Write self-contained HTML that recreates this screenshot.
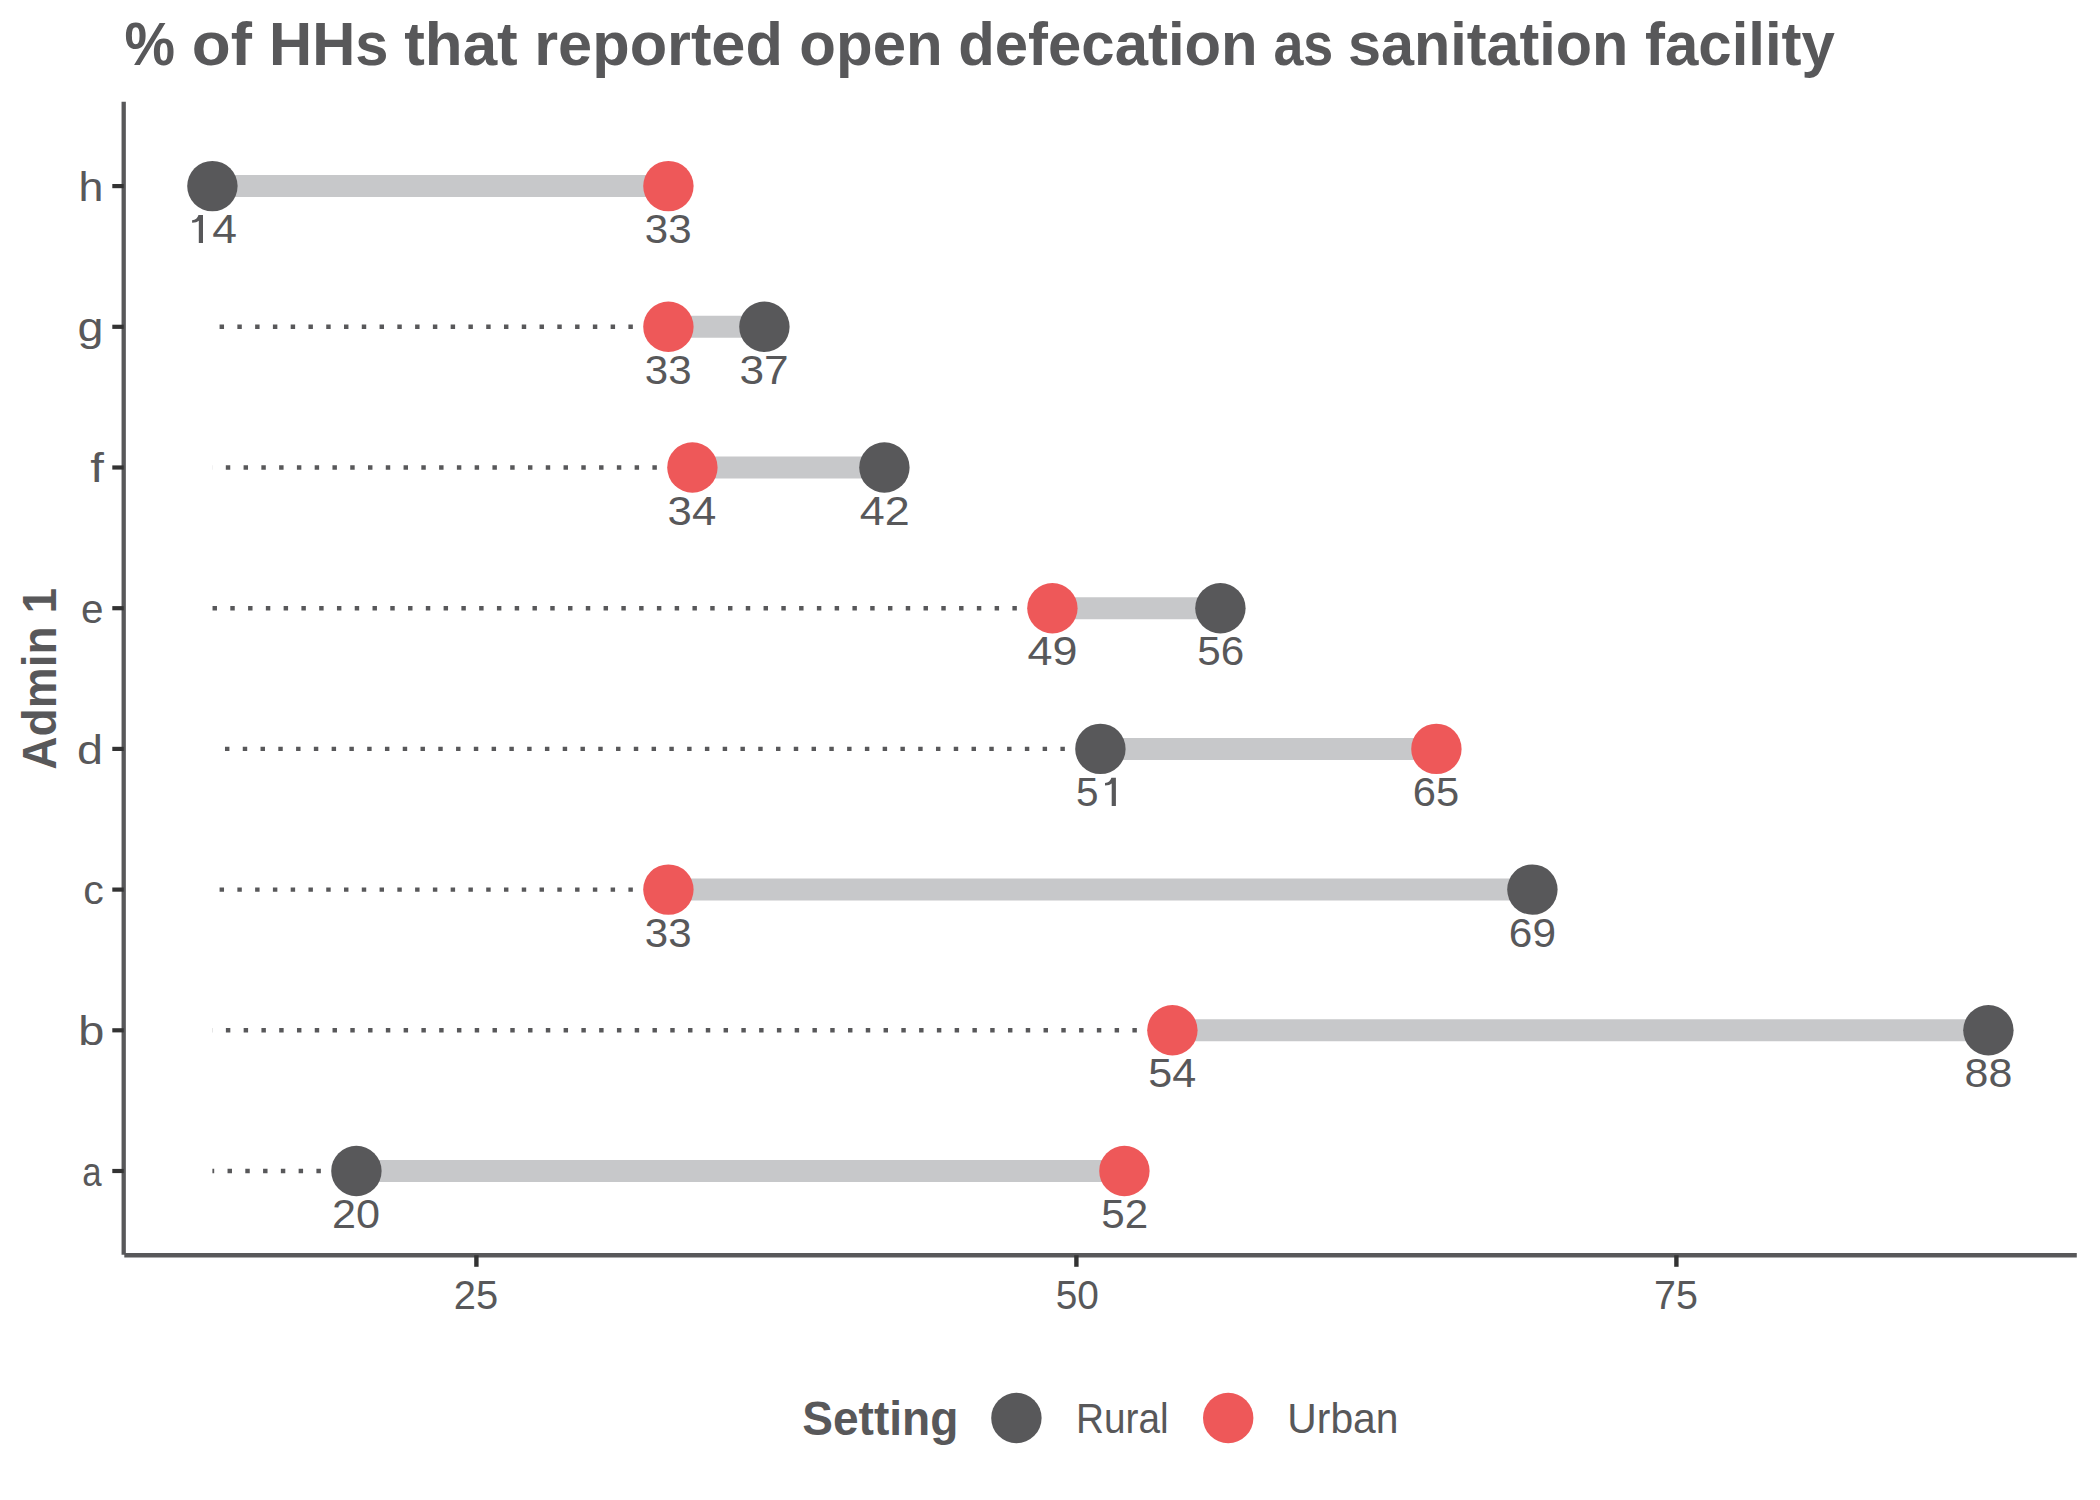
<!DOCTYPE html>
<html><head><meta charset="utf-8"><style>
html,body{margin:0;padding:0;background:#fff;width:2100px;height:1500px;overflow:hidden}
svg{display:block;font-family:"Liberation Sans",sans-serif}
</style></head><body>
<svg width="2100" height="1500" viewBox="0 0 2100 1500">
<rect width="2100" height="1500" fill="#fff"/>
<text x="124.59" y="64.70" font-size="61.3" font-weight="700" fill="#58585A" textLength="50.51" lengthAdjust="spacingAndGlyphs">%</text>
<text x="191.81" y="64.70" font-size="61.3" font-weight="700" fill="#58585A" textLength="60.17" lengthAdjust="spacingAndGlyphs">of</text>
<text x="269.11" y="64.70" font-size="61.3" font-weight="700" fill="#58585A" textLength="119.34" lengthAdjust="spacingAndGlyphs">HHs</text>
<text x="404.24" y="64.70" font-size="61.3" font-weight="700" fill="#58585A" textLength="113.41" lengthAdjust="spacingAndGlyphs">that</text>
<text x="534.26" y="64.70" font-size="61.3" font-weight="700" fill="#58585A" textLength="248.68" lengthAdjust="spacingAndGlyphs">reported</text>
<text x="799.36" y="64.70" font-size="61.3" font-weight="700" fill="#58585A" textLength="143.26" lengthAdjust="spacingAndGlyphs">open</text>
<text x="958.24" y="64.70" font-size="61.3" font-weight="700" fill="#58585A" textLength="299.47" lengthAdjust="spacingAndGlyphs">defecation</text>
<text x="1273.42" y="64.70" font-size="61.3" font-weight="700" fill="#58585A" textLength="59.89" lengthAdjust="spacingAndGlyphs">as</text>
<text x="1347.91" y="64.70" font-size="61.3" font-weight="700" fill="#58585A" textLength="280.37" lengthAdjust="spacingAndGlyphs">sanitation</text>
<text x="1644.98" y="64.70" font-size="61.3" font-weight="700" fill="#58585A" textLength="189.95" lengthAdjust="spacingAndGlyphs">facility</text>
<line x1="356.40" y1="1171.00" x2="212.40" y2="1171.00" stroke="#58585A" stroke-width="4.44" stroke-dasharray="4.444 13.331"/>
<line x1="1172.40" y1="1030.30" x2="212.40" y2="1030.30" stroke="#58585A" stroke-width="4.44" stroke-dasharray="4.444 13.331"/>
<line x1="668.40" y1="889.60" x2="212.40" y2="889.60" stroke="#58585A" stroke-width="4.44" stroke-dasharray="4.444 13.331"/>
<line x1="1100.40" y1="748.90" x2="212.40" y2="748.90" stroke="#58585A" stroke-width="4.44" stroke-dasharray="4.444 13.331"/>
<line x1="1052.40" y1="608.20" x2="212.40" y2="608.20" stroke="#58585A" stroke-width="4.44" stroke-dasharray="4.444 13.331"/>
<line x1="692.40" y1="467.50" x2="212.40" y2="467.50" stroke="#58585A" stroke-width="4.44" stroke-dasharray="4.444 13.331"/>
<line x1="668.40" y1="326.80" x2="212.40" y2="326.80" stroke="#58585A" stroke-width="4.44" stroke-dasharray="4.444 13.331"/>
<line x1="356.40" y1="1171.00" x2="1124.40" y2="1171.00" stroke="#C7C8CA" stroke-width="22"/>
<line x1="1172.40" y1="1030.30" x2="1988.40" y2="1030.30" stroke="#C7C8CA" stroke-width="22"/>
<line x1="668.40" y1="889.60" x2="1532.40" y2="889.60" stroke="#C7C8CA" stroke-width="22"/>
<line x1="1100.40" y1="748.90" x2="1436.40" y2="748.90" stroke="#C7C8CA" stroke-width="22"/>
<line x1="1052.40" y1="608.20" x2="1220.40" y2="608.20" stroke="#C7C8CA" stroke-width="22"/>
<line x1="692.40" y1="467.50" x2="884.40" y2="467.50" stroke="#C7C8CA" stroke-width="22"/>
<line x1="668.40" y1="326.80" x2="764.40" y2="326.80" stroke="#C7C8CA" stroke-width="22"/>
<line x1="212.40" y1="186.10" x2="668.40" y2="186.10" stroke="#C7C8CA" stroke-width="22"/>
<circle cx="356.40" cy="1171.00" r="25.2" fill="#58585A"/>
<circle cx="1124.40" cy="1171.00" r="25.2" fill="#EE5859"/>
<circle cx="1988.40" cy="1030.30" r="25.2" fill="#58585A"/>
<circle cx="1172.40" cy="1030.30" r="25.2" fill="#EE5859"/>
<circle cx="1532.40" cy="889.60" r="25.2" fill="#58585A"/>
<circle cx="668.40" cy="889.60" r="25.2" fill="#EE5859"/>
<circle cx="1100.40" cy="748.90" r="25.2" fill="#58585A"/>
<circle cx="1436.40" cy="748.90" r="25.2" fill="#EE5859"/>
<circle cx="1220.40" cy="608.20" r="25.2" fill="#58585A"/>
<circle cx="1052.40" cy="608.20" r="25.2" fill="#EE5859"/>
<circle cx="884.40" cy="467.50" r="25.2" fill="#58585A"/>
<circle cx="692.40" cy="467.50" r="25.2" fill="#EE5859"/>
<circle cx="764.40" cy="326.80" r="25.2" fill="#58585A"/>
<circle cx="668.40" cy="326.80" r="25.2" fill="#EE5859"/>
<circle cx="212.40" cy="186.10" r="25.2" fill="#58585A"/>
<circle cx="668.40" cy="186.10" r="25.2" fill="#EE5859"/>
<text x="331.93" y="1228.00" font-size="41" fill="#58585A" textLength="48.06" lengthAdjust="spacingAndGlyphs">20</text>
<text x="1101.21" y="1228.00" font-size="41" fill="#58585A" textLength="46.91" lengthAdjust="spacingAndGlyphs">52</text>
<text x="1964.64" y="1087.30" font-size="41" fill="#58585A" textLength="47.73" lengthAdjust="spacingAndGlyphs">88</text>
<text x="1148.27" y="1087.30" font-size="41" fill="#58585A" textLength="47.99" lengthAdjust="spacingAndGlyphs">54</text>
<text x="1508.85" y="946.60" font-size="41" fill="#58585A" textLength="47.16" lengthAdjust="spacingAndGlyphs">69</text>
<text x="644.80" y="946.60" font-size="41" fill="#58585A" textLength="46.75" lengthAdjust="spacingAndGlyphs">33</text>
<text x="1076.08" y="805.90" font-size="41" fill="#58585A" textLength="22.52" lengthAdjust="spacingAndGlyphs">5</text>
<path fill="#58585A" d="M1115.90 777.80L1115.90 805.90L1111.70 805.90L1111.70 783.60C1110.30 784.80 1108.30 785.40 1105.00 785.60L1105.00 783.00C1108.30 782.70 1110.50 780.90 1111.40 777.80Z"/>
<text x="1412.88" y="805.90" font-size="41" fill="#58585A" textLength="46.37" lengthAdjust="spacingAndGlyphs">65</text>
<text x="1197.21" y="665.20" font-size="41" fill="#58585A" textLength="46.94" lengthAdjust="spacingAndGlyphs">56</text>
<text x="1027.57" y="665.20" font-size="41" fill="#58585A" textLength="49.96" lengthAdjust="spacingAndGlyphs">49</text>
<text x="859.67" y="524.50" font-size="41" fill="#58585A" textLength="49.99" lengthAdjust="spacingAndGlyphs">42</text>
<text x="667.63" y="524.50" font-size="41" fill="#58585A" textLength="48.65" lengthAdjust="spacingAndGlyphs">34</text>
<text x="739.42" y="383.80" font-size="41" fill="#58585A" textLength="49.21" lengthAdjust="spacingAndGlyphs">37</text>
<text x="644.80" y="383.80" font-size="41" fill="#58585A" textLength="46.75" lengthAdjust="spacingAndGlyphs">33</text>
<path fill="#58585A" d="M203.00 215.00L203.00 243.10L198.80 243.10L198.80 220.80C197.40 222.00 195.40 222.60 192.10 222.80L192.10 220.20C195.40 219.90 197.60 218.10 198.50 215.00Z"/>
<text x="212.28" y="243.10" font-size="41" fill="#58585A" textLength="24.72" lengthAdjust="spacingAndGlyphs">4</text>
<text x="644.80" y="243.10" font-size="41" fill="#58585A" textLength="46.75" lengthAdjust="spacingAndGlyphs">33</text>
<line x1="123.7" y1="101.8" x2="123.7" y2="1254.8" stroke="#58585A" stroke-width="4.3"/>
<line x1="124.3" y1="1255.25" x2="2076.8" y2="1255.25" stroke="#58585A" stroke-width="4.3"/>
<line x1="112.3" y1="1171.00" x2="123.7" y2="1171.00" stroke="#333333" stroke-width="4.2"/>
<text x="82.22" y="1185.60" font-size="41.5" fill="#58585A" textLength="19.38" lengthAdjust="spacingAndGlyphs">a</text>
<line x1="112.3" y1="1030.30" x2="123.7" y2="1030.30" stroke="#333333" stroke-width="4.2"/>
<text x="78.28" y="1044.90" font-size="41.5" fill="#58585A" textLength="26.09" lengthAdjust="spacingAndGlyphs">b</text>
<line x1="112.3" y1="889.60" x2="123.7" y2="889.60" stroke="#333333" stroke-width="4.2"/>
<text x="83.26" y="904.20" font-size="41.5" fill="#58585A" textLength="20.53" lengthAdjust="spacingAndGlyphs">c</text>
<line x1="112.3" y1="748.90" x2="123.7" y2="748.90" stroke="#333333" stroke-width="4.2"/>
<text x="77.04" y="763.50" font-size="41.5" fill="#58585A" textLength="25.97" lengthAdjust="spacingAndGlyphs">d</text>
<line x1="112.3" y1="608.20" x2="123.7" y2="608.20" stroke="#333333" stroke-width="4.2"/>
<text x="80.98" y="622.80" font-size="41.5" fill="#58585A" textLength="22.52" lengthAdjust="spacingAndGlyphs">e</text>
<line x1="112.3" y1="467.50" x2="123.7" y2="467.50" stroke="#333333" stroke-width="4.2"/>
<text x="90.31" y="482.10" font-size="41.5" fill="#58585A" textLength="13.62" lengthAdjust="spacingAndGlyphs">f</text>
<line x1="112.3" y1="326.80" x2="123.7" y2="326.80" stroke="#333333" stroke-width="4.2"/>
<text x="77.64" y="341.40" font-size="41.5" fill="#58585A" textLength="25.97" lengthAdjust="spacingAndGlyphs">g</text>
<line x1="112.3" y1="186.10" x2="123.7" y2="186.10" stroke="#333333" stroke-width="4.2"/>
<text x="78.59" y="200.70" font-size="41.5" fill="#58585A" textLength="24.92" lengthAdjust="spacingAndGlyphs">h</text>
<line x1="476.40" y1="1255.25" x2="476.40" y2="1266.8" stroke="#333333" stroke-width="4.4"/>
<text x="453.69" y="1308.50" font-size="41" fill="#58585A" textLength="44.38" lengthAdjust="spacingAndGlyphs">25</text>
<line x1="1076.40" y1="1255.25" x2="1076.40" y2="1266.8" stroke="#333333" stroke-width="4.4"/>
<text x="1055.75" y="1308.50" font-size="41" fill="#58585A" textLength="43.17" lengthAdjust="spacingAndGlyphs">50</text>
<line x1="1676.40" y1="1255.25" x2="1676.40" y2="1266.8" stroke="#333333" stroke-width="4.4"/>
<text x="1653.98" y="1308.50" font-size="41" fill="#58585A" textLength="43.88" lengthAdjust="spacingAndGlyphs">75</text>
<g transform="translate(55.5 0) rotate(-90)"><text x="-769.75" y="0.00" font-size="48" font-weight="700" fill="#58585A" textLength="181.83" lengthAdjust="spacingAndGlyphs">Admin 1</text></g>
<text x="802.17" y="1434.60" font-size="48" font-weight="700" fill="#58585A" textLength="156.21" lengthAdjust="spacingAndGlyphs">Setting</text>
<circle cx="1016.4" cy="1418" r="25.2" fill="#58585A"/>
<circle cx="1228.2" cy="1418" r="25.2" fill="#EE5859"/>
<text x="1076.02" y="1432.90" font-size="42.5" fill="#58585A" textLength="92.68" lengthAdjust="spacingAndGlyphs">Rural</text>
<text x="1287.35" y="1432.70" font-size="42.5" fill="#58585A" textLength="111.10" lengthAdjust="spacingAndGlyphs">Urban</text>
</svg>
</body></html>
